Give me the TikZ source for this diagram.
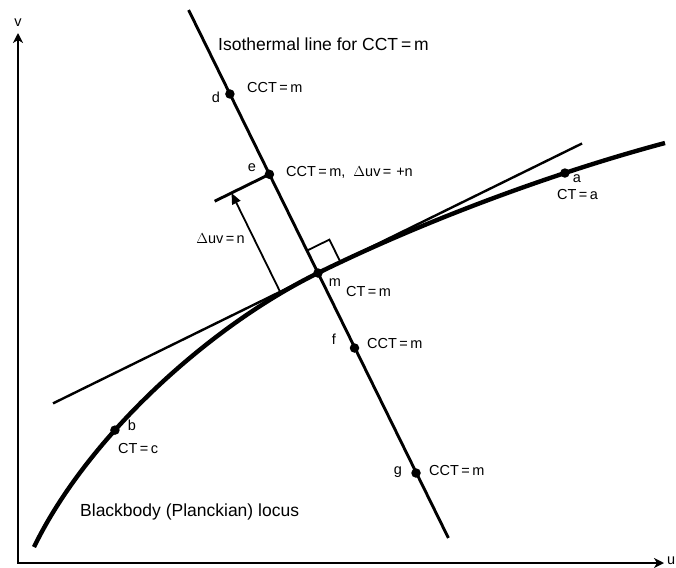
\documentclass[tikz,border=0pt]{standalone}
\usepackage{fontspec}
\setmainfont{Liberation Sans}
\usetikzlibrary{arrows.meta,calc}
\begin{document}
\begin{tikzpicture}[x=1pt,y=-1pt,
  big/.style={font=\fontsize{17.5}{20}\selectfont, inner sep=0pt, text height=12.5pt, text depth=0pt},
  small/.style={font=\fontsize{14.5}{17}\selectfont, inner sep=0pt, text height=10.4pt, text depth=0pt},
  dot/.style={circle, fill=black, inner sep=0pt, minimum size=9.5pt},
  axisline/.style={line width=2.1pt, {Stealth[length=10pt,width=10pt,inset=3pt]}-{Stealth[length=10pt,width=10pt,inset=3pt]}},
  isoline/.style={line width=2.9pt},
  tanline/.style={line width=2.4pt},
  locusline/.style={line width=4.4pt},
  dimarrow/.style={line width=1.8pt, -{Triangle[length=11pt,width=9pt]}},
  sqline/.style={line width=1.8pt}
]
\useasboundingbox (0,0) rectangle (676,567);

% axes
\coordinate (vtop) at (18,33);
\coordinate (origin) at (18,563);
\coordinate (uend) at (664,563);
\draw[axisline] (vtop) -- (origin) -- (uend);
\node[small, anchor=center] (vlab) at (18,21) {v};
\node[small, anchor=west] (ulab) at (667,559) {u};

% isothermal line
\coordinate (isotop) at (188.6,10);
\coordinate (isobot) at (448.4,538);
\draw[isoline] (isotop) -- (isobot);

% tangent line
\coordinate (tanL) at (53,403.4);
\coordinate (tanR) at (582,143.5);
\draw[tanline] (tanL) -- (tanR);

% Planckian locus
\coordinate (mpt) at (318,273);
\draw[locusline] (34,547) .. controls (88,436) and (210,326) .. coordinate[pos=0.36] (bpos) (mpt)
  .. controls (430,217.9) and (560,171) .. coordinate[pos=0.7] (apos) (665,143);

% right-angle marker
\coordinate (sq1) at (307,250.6);
\coordinate (sq2) at (329.4,239.6);
\coordinate (sq3) at (340.4,262);
\draw[sqline] (sq1) -- (sq2) -- (sq3);

% offset segment from e and delta-uv arrow
\coordinate (eL) at (214.7,201.2);
\coordinate (tpt) at (280.05,291.67);
\coordinate (atip) at (231.5,193);

% dots
\node[dot] (d) at (229.9,94) {};
\node[dot] (e) at (269.4,174.3) {};
\node[dot] (m) at (mpt) {};
\node[dot] (f) at (354.5,348) {};
\node[dot] (g) at (416,473) {};
\node[dot] (a) at (apos) {};
\node[dot] (b) at (bpos) {};

\draw[isoline] (e.center) -- (eL);
\draw[dimarrow] (tpt) -- (atip);

% labels
\node[big, anchor=west] (isolab) at (218,44) {Isothermal line for CCT\,=\,m};
\node[big, anchor=west] (loclab) at (80,510) {Blackbody (Planckian) locus};

\node[small] (dl) at (216,97) {d};
\node[small, anchor=west] (dt) at (247,87) {CCT\,=\,m};
\node[small] (el) at (252,166) {e};
\node[small, anchor=west] (et) at (286,171) {CCT\,=\,m,\ \ $\Delta$uv\,=\,\,+n};
\node[small, anchor=east] (dlt) at (245,238) {$\Delta$uv\,=\,n};
\node[small] (ml) at (335,281) {m};
\node[small, anchor=west] (mt) at (346,291) {CT\,=\,m};
\node[small] (fl) at (334,339) {f};
\node[small, anchor=west] (ft) at (367,343) {CCT\,=\,m};
\node[small] (gl) at (398,469) {g};
\node[small, anchor=west] (gt) at (429,470) {CCT\,=\,m};
\node[small] (al) at (577,177) {a};
\node[small, anchor=west] (at) at (557,194) {CT\,=\,a};
\node[small] (bl) at (132,425) {b};
\node[small, anchor=west] (bt) at (118,448) {CT\,=\,c};
\end{tikzpicture}
\end{document}
